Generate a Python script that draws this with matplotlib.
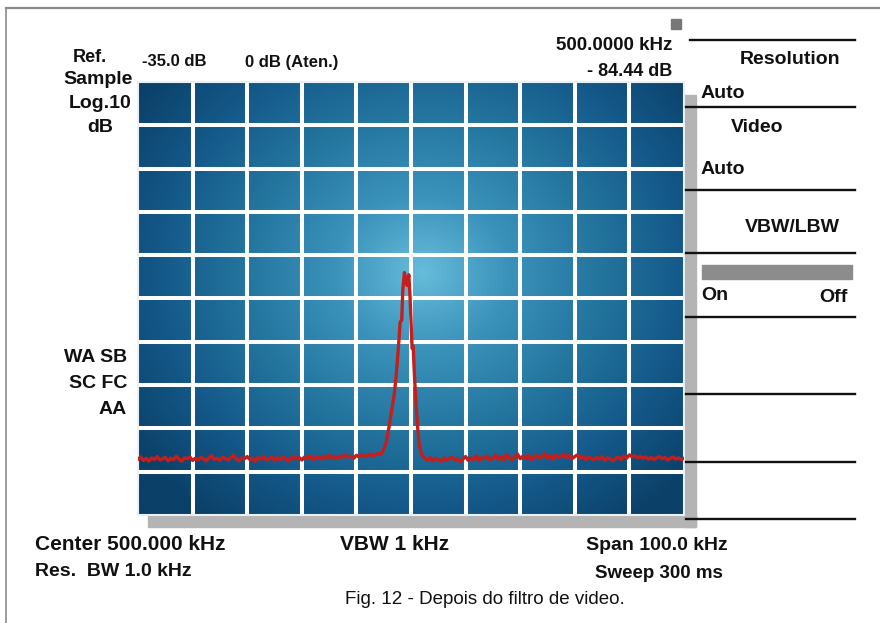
import numpy as np
import matplotlib
matplotlib.use("Agg")
import matplotlib.pyplot as plt
from matplotlib.patches import Rectangle
from matplotlib.lines import Line2D
from matplotlib.colors import LinearSegmentedColormap

plt.rcParams['font.family'] = ['Liberation Sans', 'DejaVu Sans']

# ---------------- data ----------------
center_khz = 500.0
span_khz = 100.0
ref_db = -35.0
db_per_div = 10.0
n_xdiv = 10
n_ydiv = 10

left_noise_db = [-122.1, -121.6, -122.4, -121.9, -122.6, -121.8, -122.2, -121.5, -122.3, -122.0,
                 -121.7, -122.5, -121.9, -122.2, -121.4, -122.1, -122.6, -121.8, -122.0, -121.6,
                 -122.4, -121.9, -122.3, -121.7, -122.0, -122.5, -121.8, -121.3, -122.2, -121.9,
                 -122.4, -121.6, -122.0, -122.3, -121.7, -121.2, -122.1, -122.5, -121.8, -122.0,
                 -121.5, -122.2, -121.9, -122.6, -121.7, -122.1, -121.4, -122.3, -122.0, -121.6,
                 -122.4, -121.8, -122.2, -121.5, -122.0, -122.6, -121.9, -121.4, -122.1, -121.7,
                 -122.3, -121.6, -122.0, -121.3, -122.2, -121.8, -121.5, -122.1, -121.4, -121.9,
                 -121.2, -121.8, -121.5, -122.0, -121.3, -121.7, -121.1, -121.6, -121.4, -121.9,
                 -121.2, -121.6, -121.0, -121.5, -121.3, -120.9, -121.4, -121.1, -120.8]

peak_khz = [494.5, 495.0, 495.5, 496.0, 496.5, 497.0, 497.4, 497.8, 498.0, 498.3, 498.5, 498.8,
            499.0, 499.3, 499.6, 499.8, 500.0, 500.2, 500.4, 500.6, 500.9, 501.2, 501.5, 501.9,
            502.2, 502.6]
peak_db = [-121.0, -119.8, -118.0, -114.5, -110.5, -106.5, -101.0, -94.5, -90.5, -90.0, -83.0, -79.0,
           -80.5, -82.0, -79.5, -84.0, -90.0, -96.5, -96.0, -102.0, -109.0, -114.5, -118.8, -120.8,
           -121.5, -122.0]

right_noise_db = [-122.3, -121.7, -122.5, -121.9, -122.2, -122.6, -121.8, -122.4, -122.0, -121.6,
                  -122.3, -121.9, -122.7, -122.1, -121.5, -122.4, -121.8, -122.2, -121.3, -122.5,
                  -121.7, -122.0, -121.4, -122.3, -121.9, -121.2, -122.1, -121.6, -122.4, -121.0,
                  -121.8, -122.2, -121.5, -120.9, -122.0, -121.4, -121.9, -121.1, -122.3, -121.6,
                  -121.2, -122.0, -121.5, -120.8, -121.9, -121.3, -122.1, -121.0, -121.7, -121.4,
                  -120.9, -121.8, -121.2, -122.0, -121.5, -121.1, -121.9, -121.4, -122.2, -121.6,
                  -121.9, -122.3, -121.7, -122.1, -121.5, -122.4, -121.8, -122.0, -122.5, -121.9,
                  -121.6, -122.2, -121.4, -121.9, -121.1, -121.6, -121.3, -121.8, -121.5, -121.9,
                  -121.6, -122.1, -121.7, -122.2, -121.8, -121.5, -122.0, -121.7, -122.3, -121.9,
                  -121.6, -122.1, -121.8, -122.2, -121.9]

left_khz = np.arange(450.0, 494.01, 0.5)
right_khz = np.arange(503.0, 550.01, 0.5)

freq_khz = np.concatenate([left_khz, peak_khz, right_khz])
level_db = np.concatenate([left_noise_db, peak_db, right_noise_db])

# ---------------- figure ----------------
W, H = 880, 623
fig = plt.figure(figsize=(W / 100, H / 100), dpi=100)
fig.patch.set_facecolor('white')


def fx(px):
    return px / W


def fy(py):
    return 1 - py / H


# outer frame lines
fig.add_artist(Line2D([fx(6), fx(880)], [fy(8), fy(8)], color='#8a8a8a', lw=1.6))
fig.add_artist(Line2D([fx(6), fx(6)], [fy(8), fy(623)], color='#8a8a8a', lw=1.2))

# shadow of screen
fig.add_artist(Rectangle((fx(684), fy(527)), fx(696) - fx(684), fy(95) - fy(527),
                         transform=fig.transFigure, color='#b4b4b4', zorder=0))
fig.add_artist(Rectangle((fx(148), fy(527)), fx(696) - fx(148), fy(515) - fy(527),
                         transform=fig.transFigure, color='#b4b4b4', zorder=0))

ax = fig.add_axes([fx(138), fy(515), fx(684) - fx(138), fy(82) - fy(515)])
x0, x1 = center_khz - span_khz / 2, center_khz + span_khz / 2
y1 = ref_db
y0 = ref_db - db_per_div * n_ydiv
ax.set_xlim(x0, x1)
ax.set_ylim(y0, y1)

# radial background gradient (screen glow)
gx = np.linspace(0, 1, 300)
gy = np.linspace(0, 1, 240)
GX, GY = np.meshgrid(gx, gy)
cxn, cyn = 0.52, 0.56
d = np.sqrt(((GX - cxn) / 0.75) ** 2 + ((GY - cyn) / 0.85) ** 2)
d = np.clip(d / 0.85, 0, 1)
cmap = LinearSegmentedColormap.from_list('scr', ['#66bcda', '#3a92bb', '#24769f', '#14598a', '#0b4068'])
ax.imshow(d, extent=[x0, x1, y0, y1], origin='lower', aspect='auto', cmap=cmap,
          vmin=0, vmax=1, zorder=0, interpolation='bilinear')

# grid
for i in range(1, n_xdiv):
    ax.axvline(x0 + i * span_khz / n_xdiv, color='white', lw=2.9, zorder=1)
for j in range(1, n_ydiv):
    ax.axhline(y0 + j * db_per_div, color='white', lw=2.9, zorder=1)
for s in ax.spines.values():
    s.set_color('#e8f2f6')
    s.set_linewidth(1.5)
ax.set_xticks([])
ax.set_yticks([])

# trace
ax.plot(freq_khz, level_db, color='#c41f1c', lw=2.4, zorder=3, solid_joinstyle='round')

# ---------------- texts ----------------
fs = 14
tc = '#111111'


def t(px, py, s, ha='left', size=fs, weight='bold', **kw):
    fig.text(fx(px), fy(py), s, ha=ha, va='center', fontsize=size, color=tc,
             fontweight=weight, **kw)


t(107, 58, 'Ref.', ha='right', size=13)
t(142, 62, '-35.0 dB', size=12)
t(245, 62, '0 dB (Aten.)', size=12)
t(672, 45, '500.0000 kHz', ha='right', size=13.5)
t(672, 72, '- 84.44 dB', ha='right', size=13)
fig.add_artist(Rectangle((fx(671), fy(29)), fx(10), fy(19) - fy(29),
                         transform=fig.transFigure, color='#777777'))

t(98, 80, 'Sample', ha='center')
t(100, 103, 'Log.10', ha='center')
t(100, 127, 'dB', ha='center')

t(127, 357, 'WA SB', ha='right')
t(127, 383, 'SC FC', ha='right')
t(127, 410, 'AA', ha='right')

t(35, 545, 'Center 500.000 kHz', size=15)
t(35, 572, 'Res.  BW 1.0 kHz', size=14)
t(395, 545, 'VBW 1 kHz', ha='center', size=15)
t(728, 545, 'Span 100.0 kHz', ha='right')
t(723, 573, 'Sweep 300 ms', ha='right', size=13.5)
t(485, 600, 'Fig. 12 - Depois do filtro de video.', ha='center', size=13.5, weight='normal')

# right-side soft key panel
for py, xa in [(40, 690), (107, 686), (190, 686), (253, 686), (317, 686),
               (394, 686), (462, 686), (519, 686)]:
    fig.add_artist(Line2D([fx(xa), fx(855)], [fy(py), fy(py)], color='#111111', lw=1.7))

t(840, 60, 'Resolution', ha='right')
t(701, 93, 'Auto')
t(757, 127, 'Video', ha='center')
t(701, 169, 'Auto')
t(840, 227, 'VBW/LBW', ha='right')
fig.add_artist(Rectangle((fx(702), fy(279)), fx(852) - fx(702), fy(265) - fy(279),
                         transform=fig.transFigure, color='#8c8c8c'))
t(701, 296, 'On')
t(848, 298, 'Off', ha='right')

fig.savefig('out.png', dpi=100)
